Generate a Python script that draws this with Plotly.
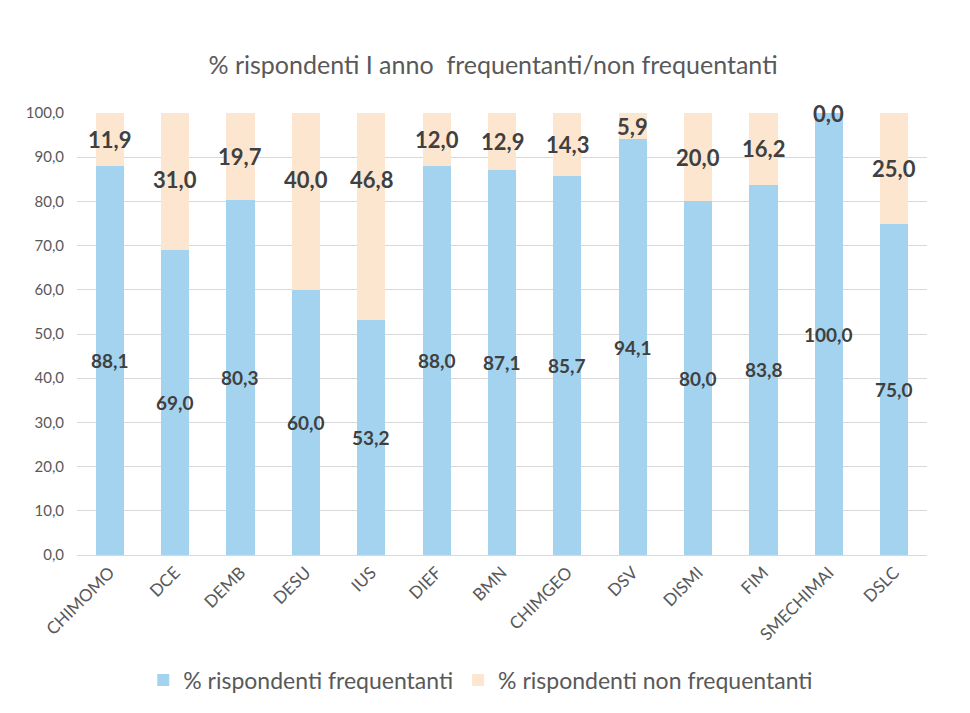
import plotly.graph_objects as go

# Dati
corsi = ['CHIMOMO', 'DCE', 'DEMB', 'DESU', 'IUS', 'DIEF', 'BMN', 'CHIMGEO',
         'DSV', 'DISMI', 'FIM', 'SMECHIMAI', 'DSLC']
frequentanti = [88.1, 69.0, 80.3, 60.0, 53.2, 88.0, 87.1, 85.7, 94.1, 80.0, 83.8, 100.0, 75.0]
non_frequentanti = [11.9, 31.0, 19.7, 40.0, 46.8, 12.0, 12.9, 14.3, 5.9, 20.0, 16.2, 0.0, 25.0]

blu = '#A3D3EE'
pesca = '#FDE6D0'
testo = '#404040'
grigio = '#595959'
font = 'Lato'


def fmt(v):
    return f'{v:.1f}'.replace('.', ',')


fig = go.Figure()
fig.add_trace(go.Bar(x=corsi, y=frequentanti, name='% rispondenti frequentanti',
                     marker=dict(color=blu, line=dict(width=0))))
fig.add_trace(go.Bar(x=corsi, y=non_frequentanti, name='% rispondenti non frequentanti',
                     marker=dict(color=pesca, line=dict(width=0))))

# Etichette dati
annotations = []
for c, f, n in zip(corsi, frequentanti, non_frequentanti):
    annotations.append(dict(x=c, y=f / 2, text=fmt(f), showarrow=False,
                            font=dict(family=font, size=19, color=testo, weight='bold')))
    annotations.append(dict(x=c, y=max(f + n / 2, 85), text=fmt(n), showarrow=False,
                            font=dict(family=font, size=22, color=testo, weight='bold')))

fig.update_layout(
    barmode='stack',
    bargap=0.57,
    width=970, height=713,
    margin=dict(l=69, r=51, t=105, b=166),
    paper_bgcolor='white', plot_bgcolor='white',
    separators=',.',
    font=dict(family=font, color=grigio),
    title=dict(text='% rispondenti I anno  frequentanti/non frequentanti',
               x=0.5, xanchor='center', y=0.92, yanchor='middle',
               font=dict(family=font, size=25, color=grigio)),
    legend=dict(orientation='h', x=0.475, xanchor='center', y=-0.283, yanchor='middle',
                font=dict(family=font, size=23, color=grigio),
                itemsizing='constant', traceorder='normal', itemwidth=30),
    annotations=annotations,
)
fig.update_yaxes(range=[0, 100], dtick=10, tickformat='.1f',
                 gridcolor='#D9D9D9', gridwidth=1, zeroline=False,
                 showline=False, ticks='', ticklabelstandoff=12,
                 tickfont=dict(family=font, size=15, color=grigio))
fig.update_xaxes(tickangle=-45, showline=True, linecolor='#D9D9D9', linewidth=1,
                 ticks='', tickfont=dict(family=font, size=17, color=grigio))

fig.write_html('out.html')
